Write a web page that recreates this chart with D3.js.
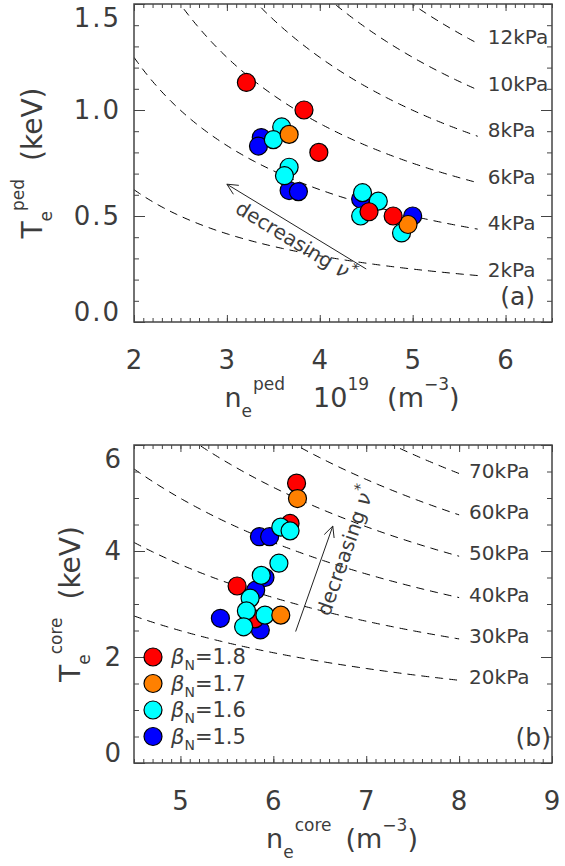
<!DOCTYPE html>
<html>
<head>
<meta charset="utf-8">
<script src="https://cdn.jsdelivr.net/npm/d3@7"></script>
<style>
  body { margin: 0; background: #fff; }
  text { font-family: "DejaVu Sans", sans-serif; fill: #3c3c3c; }
  .frame { fill: none; stroke: #444; stroke-width: 1.5; }
</style>
</head>
<body>
<div id="figure-container"></div>
<script>
// beta_N groups, same order in both panels
var betaN = ['1.8', '1.7', '1.6', '1.5'];
var betaColors = ['#ff0000', '#ff8000', '#00ffff', '#0000ff'];

// (a) pedestal: [n_e (1e19 m^-3), T_e (keV)]
var pedRed    = [[3.21, 1.13], [3.83, 1.00], [3.99, 0.80], [4.53, 0.52], [4.79, 0.50]];
var pedOrange = [[3.67, 0.885], [4.95, 0.46]];
var pedCyan   = [[3.59, 0.92], [3.50, 0.86], [3.67, 0.73], [3.62, 0.69], [4.46, 0.61], [4.63, 0.57], [4.44, 0.50], [4.88, 0.42]];
var pedBlue   = [[3.37, 0.87], [3.34, 0.83], [3.67, 0.62], [3.77, 0.615], [4.44, 0.58], [5.00, 0.50]];

// (b) core
var coreRed    = [[6.25, 5.28], [6.18, 4.52], [5.61, 3.34], [5.80, 2.72]];
var coreOrange = [[6.26, 4.99], [6.08, 2.79]];
var coreCyan   = [[6.08, 4.45], [6.18, 4.38], [6.06, 3.77], [5.87, 3.54], [5.75, 3.11], [5.71, 2.87], [5.91, 2.79], [5.68, 2.57]];
var coreBlue   = [[5.85, 4.27], [5.96, 4.27], [5.91, 3.50], [5.81, 3.26], [5.43, 2.73], [5.86, 2.51]];

// isobars (kPa) and where they stop
var pedPressures = [2, 4, 6, 8, 10, 12];
var corePressures = [20, 30, 40, 50, 60, 70];
var pedIsoEnd = 5.7;
var coreIsoEnd = 8.0;
var kPaPerUnit = 1.602; // 1e19 m^-3 * 1 keV

// axes
var pedXTicks = [2, 3, 4, 5, 6];
var pedYTicks = [0, 0.5, 1.0, 1.5];
var pedYLabels = ['0.0', '0.5', '1.0', '1.5'];
var coreXTicks = [5, 6, 7, 8, 9];
var coreYTicks = [0, 2, 4, 6];
var coreYLabels = ['0', '2', '4', '6'];

// "decreasing nu*" arrows, tail -> head, in data units
var pedArrow = [[4.5, 0.25], [3.0, 0.65]];
var coreArrow = [[6.24, 2.48], [6.64, 4.47]];

var W = 565, H = 866;
var plotLeft = 134, plotRight = 552;

var svg = d3.select('#figure-container')
  .append('svg')
  .attr('width', W)
  .attr('height', H);

function richText(sel, parts) {
  var cur = 0;
  parts.forEach(function(pt) {
    var off = pt.off || 0;
    var ts = sel.append('tspan')
      .attr('font-size', pt.fs)
      .attr('dy', off - cur)
      .text(pt.t);
    if (pt.dx) ts.attr('dx', pt.dx);
    if (pt.italic) ts.attr('font-style', 'italic');
    cur = off;
  });
}

function drawPanel(p) {
  var x = d3.scaleLinear().domain(p.xDomain).range([plotLeft, plotRight]);
  var y = d3.scaleLinear().domain(p.yDomain).range([p.bottom, p.top]);
  var g = svg.append('g');

  g.append('clipPath').attr('id', 'clip-' + p.id)
    .append('rect')
    .attr('x', plotLeft).attr('y', p.top)
    .attr('width', plotRight - plotLeft).attr('height', p.bottom - p.top);

  // dashed isobars
  var line = d3.line().x(d => x(d[0])).y(d => y(d[1]));
  var iso = g.append('g').attr('clip-path', 'url(#clip-' + p.id + ')');
  p.pressures.forEach(function(kp) {
    var pts = d3.range(p.xDomain[0], p.isoEnd + 1e-9, 0.02).map(n => [n, kp / kPaPerUnit / n]);
    iso.append('path')
      .attr('d', line(pts))
      .attr('fill', 'none')
      .attr('stroke', '#000')
      .attr('stroke-width', 1)
      .attr('stroke-dasharray', '8,6');
  });
  p.pressures.forEach(function(kp) {
    g.append('text')
      .attr('x', x(p.isoEnd) + 10)
      .attr('y', y(kp / kPaPerUnit / p.isoEnd) + p.isoLabelDy)
      .attr('font-size', 20)
      .text(kp + 'kPa');
  });

  // ticks, all pointing inward
  var xMinor = d3.range(p.xDomain[0], p.xDomain[1] + 1e-9, 0.1);
  var yMinor = d3.range(p.yDomain[0], p.yDomain[1] + 1e-9, p.yMinorStep);
  var axes = g.append('g').attr('color', '#444');
  function ticks(axisFn, scale, vals, len, tr) {
    axes.append('g').attr('transform', tr)
      .call(axisFn(scale).tickValues(vals).tickSize(-len).tickFormat(''))
      .call(s => s.select('.domain').remove());
  }
  ticks(d3.axisBottom, x, xMinor, 4, `translate(0,${p.bottom})`);
  ticks(d3.axisBottom, x, p.xTicks, 7, `translate(0,${p.bottom})`);
  ticks(d3.axisTop, x, xMinor, 4, `translate(0,${p.top})`);
  ticks(d3.axisTop, x, p.xTicks, 7, `translate(0,${p.top})`);
  ticks(d3.axisLeft, y, yMinor, 5, `translate(${plotLeft},0)`);
  ticks(d3.axisLeft, y, p.yTicks, 11, `translate(${plotLeft},0)`);
  ticks(d3.axisRight, y, yMinor, 5, `translate(${plotRight},0)`);
  ticks(d3.axisRight, y, p.yTicks, 11, `translate(${plotRight},0)`);

  g.append('rect').attr('class', 'frame')
    .attr('x', plotLeft).attr('y', p.top)
    .attr('width', plotRight - plotLeft).attr('height', p.bottom - p.top);

  // tick labels
  var fsTick = 26, cap = 0.729 * fsTick;
  g.selectAll('.xlab').data(p.xTicks).enter()
    .append('text')
    .attr('x', d => x(d))
    .attr('y', p.bottom + 47)
    .attr('text-anchor', 'middle')
    .attr('font-size', fsTick)
    .text(d => d);
  g.selectAll('.ylab').data(p.yTicks).enter()
    .append('text')
    .attr('x', 121)
    .attr('y', d => Math.min(Math.max(y(d) + cap / 2, p.top + 4 + cap), p.bottom - 1))
    .attr('text-anchor', 'end')
    .attr('font-size', fsTick)
    .attr('letter-spacing', p.yLetterSpacing)
    .text((d, i) => p.yLabels[i]);

  // arrow
  var a0 = [x(p.arrow[0][0]), y(p.arrow[0][1])];
  var a1 = [x(p.arrow[1][0]), y(p.arrow[1][1])];
  g.append('line')
    .attr('x1', a0[0]).attr('y1', a0[1]).attr('x2', a1[0]).attr('y2', a1[1])
    .attr('stroke', '#222').attr('stroke-width', 1);
  var back = Math.atan2(a0[1] - a1[1], a0[0] - a1[0]);
  [-0.45, 0.45].forEach(function(da) {
    g.append('line')
      .attr('x1', a1[0]).attr('y1', a1[1])
      .attr('x2', a1[0] + 12 * Math.cos(back + da))
      .attr('y2', a1[1] + 12 * Math.sin(back + da))
      .attr('stroke', '#222').attr('stroke-width', 1);
  });
  // label reads along the arrow
  var from = p.textReversed ? a1 : a0, to = p.textReversed ? a0 : a1;
  var ang = Math.atan2(to[1] - from[1], to[0] - from[0]);
  var mid = [(a0[0] + a1[0]) / 2, (a0[1] + a1[1]) / 2];
  var tx = mid[0] + p.textAlong * Math.cos(ang) - p.textPerp * Math.sin(ang);
  var ty = mid[1] + p.textAlong * Math.sin(ang) + p.textPerp * Math.cos(ang);
  var lab = g.append('text')
    .attr('text-anchor', 'middle')
    .attr('transform', `translate(${tx},${ty}) rotate(${ang * 180 / Math.PI})`);
  richText(lab, [
    {t: 'decreasing', fs: 20},
    {t: 'ν', fs: 21, dx: 7, italic: true},
    {t: '*', fs: 15, off: -9}
  ]);

  // markers
  var markers = g.append('g');
  p.drawOrder.forEach(function(si) {
    markers.selectAll(null).data(p.series[si]).enter()
      .append('circle')
      .attr('cx', d => x(d[0]))
      .attr('cy', d => y(d[1]))
      .attr('r', 9)
      .attr('fill', betaColors[si])
      .attr('stroke', '#000')
      .attr('stroke-width', 1.2);
  });

  // panel tag
  g.append('text')
    .attr('x', p.tagX).attr('y', p.bottom - 17)
    .attr('text-anchor', 'end')
    .attr('font-size', 25)
    .text(p.tag);

  // axis titles
  var xt = g.append('text')
    .attr('x', 342).attr('y', p.xTitleY)
    .attr('text-anchor', 'middle');
  richText(xt, p.xTitle);
  var yt = g.append('text')
    .attr('text-anchor', 'middle')
    .attr('transform', `translate(${p.yTitleX},${(p.top + p.bottom) / 2}) rotate(-90)`);
  richText(yt, p.yTitle);

  return {x: x, y: y, g: g};
}

drawPanel({
  id: 'a', top: 4, bottom: 322,
  xDomain: [2, 6.5], yDomain: [0, 1.5], yMinorStep: 0.1,
  xTicks: pedXTicks, yTicks: pedYTicks, yLabels: pedYLabels, yLetterSpacing: 2,
  pressures: pedPressures, isoEnd: pedIsoEnd, isoLabelDy: 1,
  series: [pedRed, pedOrange, pedCyan, pedBlue], drawOrder: [3, 2, 1, 0],
  arrow: pedArrow, textReversed: true, textAlong: 7, textPerp: 20,
  tag: '(a)', tagX: 535,
  xTitleY: 407,
  xTitle: [
    {t: 'n', fs: 27}, {t: 'e', fs: 17, off: 10}, {t: 'ped', fs: 17, off: -17, dx: 1},
    {t: '10', fs: 27, off: 0, dx: 28}, {t: '19', fs: 17, off: -17},
    {t: '(m', fs: 27, off: 0, dx: 18}, {t: '−3', fs: 17, off: -17}, {t: ')', fs: 27, off: 0}
  ],
  yTitleX: 42,
  yTitle: [
    {t: 'T', fs: 28}, {t: 'e', fs: 17, off: 10}, {t: 'ped', fs: 17, off: -18},
    {t: '(keV)', fs: 28, off: 0, dx: 18}
  ]
});

var core = drawPanel({
  id: 'b', top: 445, bottom: 763,
  xDomain: [4.5, 9], yDomain: [0, 6], yMinorStep: 0.5,
  xTicks: coreXTicks, yTicks: coreYTicks, yLabels: coreYLabels, yLetterSpacing: 0,
  pressures: corePressures, isoEnd: coreIsoEnd, isoLabelDy: 4,
  series: [coreRed, coreOrange, coreCyan, coreBlue], drawOrder: [3, 0, 2, 1],
  arrow: coreArrow, textReversed: false, textAlong: 37, textPerp: 27,
  tag: '(b)', tagX: 551,
  xTitleY: 848,
  xTitle: [
    {t: 'n', fs: 27}, {t: 'e', fs: 17, off: 10}, {t: 'core', fs: 17, off: -17, dx: 1},
    {t: '(m', fs: 27, off: 0, dx: 14}, {t: '−3', fs: 17, off: -17}, {t: ')', fs: 27, off: 0}
  ],
  yTitleX: 80,
  yTitle: [
    {t: 'T', fs: 28}, {t: 'e', fs: 17, off: 10}, {t: 'core', fs: 17, off: -18},
    {t: '(keV)', fs: 28, off: 0, dx: 18}
  ]
});

// legend in panel (b)
var legend = core.g.append('g');
betaN.forEach(function(b, i) {
  var cy = 657 + i * 26.5;
  legend.append('circle')
    .attr('cx', 153).attr('cy', cy).attr('r', 9)
    .attr('fill', betaColors[i]).attr('stroke', '#000').attr('stroke-width', 1.2);
  var t = legend.append('text').attr('x', 171).attr('y', cy + 7);
  richText(t, [
    {t: 'β', fs: 21, italic: true},
    {t: 'N', fs: 14, off: 6},
    {t: '=' + b, fs: 21, off: 0}
  ]);
});
</script>
</body>
</html>
